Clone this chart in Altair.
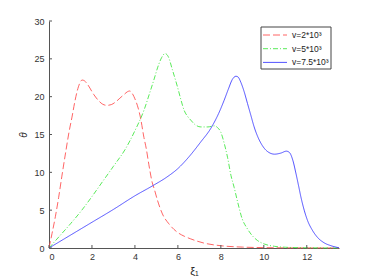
import altair as alt
import pandas as pd

# v = 2*10^3 (red dashed)
red_x = [0, 0.14, 0.3, 0.45, 0.6, 0.79, 0.93, 1.07, 1.2, 1.3, 1.42, 1.54, 1.65, 1.8, 2.08, 2.3, 2.5, 2.7,
         2.9, 3.1, 3.3, 3.5, 3.65, 3.76, 3.88, 4.03, 4.15, 4.26, 4.42, 4.53, 4.65, 4.81, 4.9, 5.04, 5.28,
         5.58, 5.98, 6.3, 6.6, 7.2, 8.0, 9.0, 10.0, 11.0, 12.0, 13.5]
red_y = [0, 1.9, 4.2, 6.7, 9.5, 12.9, 15.3, 17.3, 19.3, 20.6, 21.7, 22.2, 22.1, 21.6, 20.3, 19.5, 19.0, 18.85,
         18.95, 19.3, 19.8, 20.3, 20.65, 20.75, 20.4, 19.5, 18.5, 17.2, 14.6, 13.1, 11.0, 8.6, 7.8, 6.4, 4.5,
         3.2, 2.07, 1.55, 1.2, 0.66, 0.3, 0.12, 0.05, 0.02, 0.01, 0]

# v = 5*10^3 (green dash-dot)
green_x = [0, 0.5, 1.0, 1.5, 2.0, 2.5, 3.0, 3.56, 4.0, 4.42, 4.7, 4.88, 5.1, 5.25, 5.4, 5.55, 5.75, 5.98,
           6.15, 6.29, 6.45, 6.6, 6.8, 7.07, 7.4, 7.7, 7.85, 8.0, 8.15, 8.31, 8.47, 8.62, 8.78, 9.0, 9.2,
           9.4, 9.7, 10.02, 10.5, 11.0, 12.0, 13.5]
green_y = [0, 1.6, 3.2, 4.9, 6.8, 8.8, 10.8, 13.1, 15.5, 18.2, 20.6, 22.2, 24.2, 25.2, 25.7, 25.3, 23.5, 21.3,
           19.5, 18.2, 17.4, 16.9, 16.3, 16.0, 16.0, 16.15, 15.9, 15.3, 13.9, 12.0, 9.6, 8.0, 6.1, 3.8, 2.7,
           1.85, 1.0, 0.53, 0.22, 0.1, 0.03, 0]

# v = 7.5*10^3 (blue solid)
blue_x = [0, 1.0, 2.0, 3.0, 4.0, 4.84, 5.5, 6.0, 6.5, 7.06, 7.53, 7.9, 8.15, 8.35, 8.54, 8.7, 8.8, 8.93,
          9.08, 9.24, 9.4, 9.55, 9.75, 9.94, 10.15, 10.5, 10.8, 11.05, 11.2, 11.35, 11.5, 11.62, 11.73,
          11.88, 12.04, 12.25, 12.5, 12.8, 13.13, 13.5]
blue_y = [0, 1.7, 3.4, 5.1, 6.9, 8.25, 9.4, 10.5, 12.0, 14.0, 15.8, 17.8, 19.5, 21.0, 22.3, 22.7, 22.6, 21.9,
          20.7, 19.1, 17.5, 16.0, 14.5, 13.5, 12.8, 12.4, 12.55, 12.8, 12.6, 11.6, 9.8, 8.2, 6.7,
          5.0, 3.6, 2.4, 1.4, 0.7, 0.3, 0.03]

series_names = ["v=2*10³", "v=5*10³", "v=7.5*10³"]
series_colors = ["#ff4a4a", "#3de63d", "#3535ff"]
series_dash = [[7, 3], [5, 2, 1, 2], [1, 0]]

x_ticks = [0, 2, 4, 6, 8, 10, 12]
y_ticks = [0, 5, 10, 15, 20, 25, 30]

rows = []
for name, xs, ys in zip(series_names, [red_x, green_x, blue_x], [red_y, green_y, blue_y]):
    for xv, yv in zip(xs, ys):
        rows.append({"xi": xv, "theta": yv, "series": name})
df = pd.DataFrame(rows)

W, H = 290, 227
xscale = alt.Scale(domain=[0, 13.5], nice=False, zero=False)
yscale = alt.Scale(domain=[0, 30], nice=False, zero=False)

x_axis = alt.Axis(values=x_ticks, title="ξ₁", titleFontSize=11, titlePadding=4,
                  labelPadding=4, ticks=False, grid=False, labelOverlap=False)
y_axis = alt.Axis(values=y_ticks, title="θ", titleFontSize=10, titleFontStyle="italic",
                  titlePadding=5, labelPadding=5, ticks=False, grid=False, labelOverlap=False)

lines = alt.Chart(df).mark_line(strokeWidth=1, opacity=0.85, interpolate="monotone").encode(
    x=alt.X("xi:Q", scale=xscale, axis=x_axis),
    y=alt.Y("theta:Q", scale=yscale, axis=y_axis),
    color=alt.Color("series:N", scale=alt.Scale(domain=series_names, range=series_colors), legend=None),
    strokeDash=alt.StrokeDash("series:N", scale=alt.Scale(domain=series_names, range=series_dash),
                              legend=None),
    order=alt.Order("xi:Q"),
)

xt = alt.Chart(pd.DataFrame({"t": x_ticks})).mark_rule(color="#555", strokeWidth=1).encode(
    x=alt.X("t:Q", scale=xscale, axis=x_axis), y=alt.value(H), y2=alt.value(H - 3))
yt = alt.Chart(pd.DataFrame({"t": y_ticks})).mark_rule(color="#555", strokeWidth=1).encode(
    y=alt.Y("t:Q", scale=yscale, axis=y_axis), x=alt.value(0), x2=alt.value(3))

# legend (manual, MATLAB style box)
LX0, LX1, LY0, LY1 = 212, 282, 6, 48
box = alt.Chart(pd.DataFrame({"k": [0]})).mark_rect(fill="white", stroke="#444", strokeWidth=1).encode(
    x=alt.value(LX0), x2=alt.value(LX1), y=alt.value(LY0), y2=alt.value(LY1))
legend_layers = [box]
for i, (name, col, dash) in enumerate(zip(series_names, series_colors, series_dash)):
    ly = 14 + 13.7 * i
    one = alt.Chart(pd.DataFrame({"series": [name]}))
    legend_layers.append(one.mark_rule(strokeWidth=1, opacity=0.85, color=col, strokeDash=dash).encode(
        x=alt.value(214), x2=alt.value(238), y=alt.value(ly)))
    legend_layers.append(one.mark_text(align="left", baseline="middle", fontSize=8.5,
                                       font="Liberation Sans", color="#222").encode(
        x=alt.value(243), y=alt.value(ly), text="series:N"))

chart = alt.layer(lines, xt, yt, *legend_layers).properties(
    width=W, height=H,
    autosize=alt.AutoSizeParams(type="none"),
    padding={"left": 41, "top": 13, "right": 20, "bottom": 28},
).configure_view(stroke=None).configure_axis(
    domainColor="#555", labelColor="#333", titleColor="#222", labelFontSize=9,
    labelFont="Liberation Sans", titleFont="Liberation Sans", titleFontWeight="normal",
)

chart.save("out.html", embed_options={"renderer": "svg", "actions": False})
